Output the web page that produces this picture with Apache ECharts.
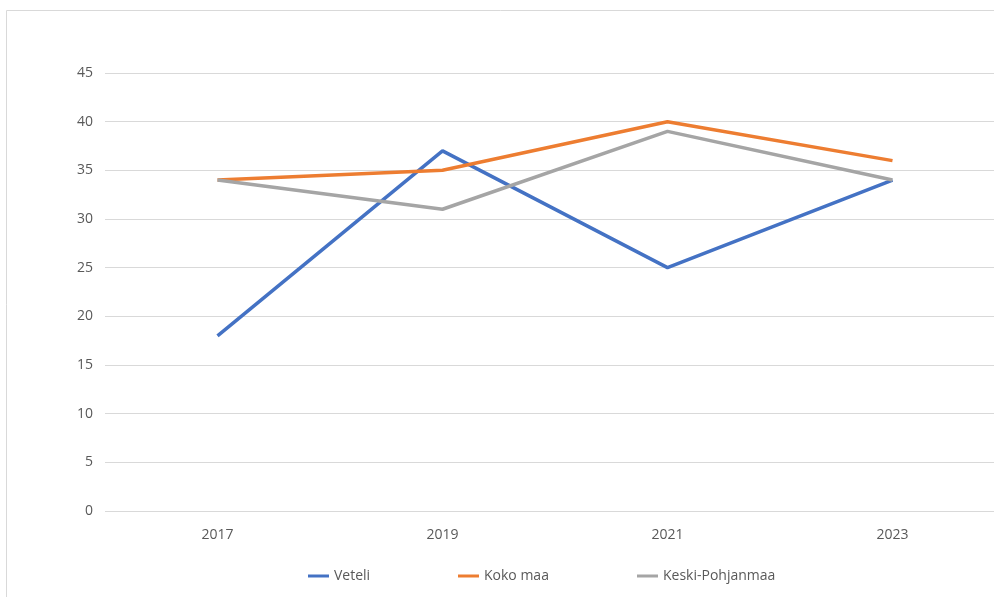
<!DOCTYPE html>
<html><head><meta charset="utf-8">
<script src="https://cdn.jsdelivr.net/npm/echarts@6/dist/echarts.min.js"></script>
<style>html,body{margin:0;padding:0;background:#fff}#c{width:994px;height:597px}</style>
</head><body><div id="c"></div>
<script>
const categories = ['2017', '2019', '2021', '2023'];
const veteli = [18, 37, 25, 34];
const kokoMaa = [34, 35, 40, 36];
const keskiPohjanmaa = [34, 31, 39, 34];
const seriesNames = ['Veteli', 'Koko maa', 'Keski-Pohjanmaa'];
const colors = ['#4472C4', '#ED7D31', '#A5A5A5'];
const font = '"Open Sans", sans-serif';
const chart = echarts.init(document.getElementById('c'));
const legendLeft = [303, 453, 632];
chart.setOption({
  animation: false,
  color: colors,
  graphic: [{type: 'rect', shape: {x: 6.5, y: 10.5, width: 1100, height: 700}, style: {fill: 'none', stroke: '#d9d9d9', lineWidth: 1}}],
  grid: {left: 105, width: 900, top: 73, height: 438, outerBoundsMode: 'none', containLabel: false},
  legend: seriesNames.map((n, i) => ({
    data: [n], left: legendLeft[i], top: 564, itemWidth: 21, itemHeight: 3, itemGap: 4,
    icon: 'rect', textStyle: {color: '#595959', fontSize: 14, fontFamily: font}
  })),
  xAxis: {
    type: 'category', data: categories, boundaryGap: true,
    axisLine: {show: false}, axisTick: {show: false},
    axisLabel: {color: '#595959', fontSize: 14, fontFamily: font, margin: 17}
  },
  yAxis: {
    type: 'value', min: 0, max: 45, interval: 5,
    axisLine: {show: false}, axisTick: {show: false},
    axisLabel: {color: '#595959', fontSize: 14, fontFamily: font, margin: 12},
    splitLine: {lineStyle: {color: '#d9d9d9', width: 1}}
  },
  series: [
    {name: seriesNames[0], type: 'line', data: veteli, symbol: 'none', lineStyle: {width: 3.5}},
    {name: seriesNames[1], type: 'line', data: kokoMaa, symbol: 'none', lineStyle: {width: 3.5}},
    {name: seriesNames[2], type: 'line', data: keskiPohjanmaa, symbol: 'none', lineStyle: {width: 3.5}}
  ]
});
</script></body></html>
